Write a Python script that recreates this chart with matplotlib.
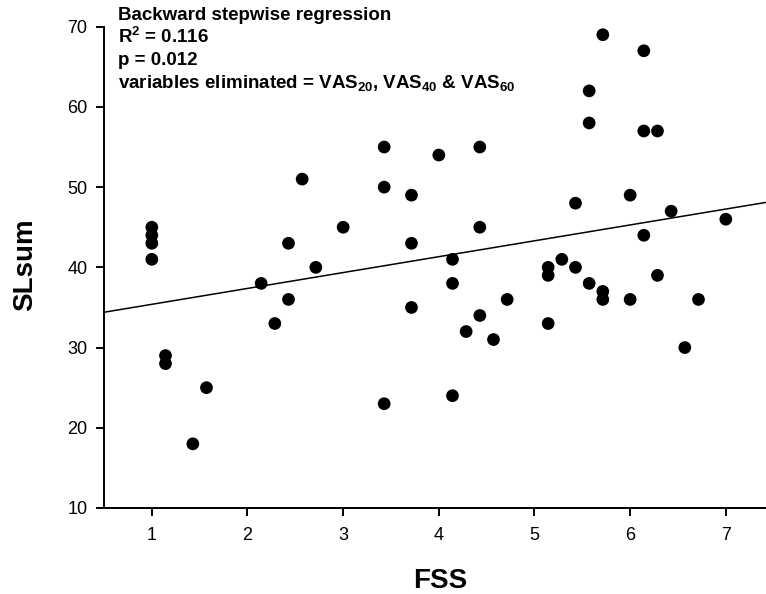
import numpy as np
import matplotlib
matplotlib.use("Agg")
import matplotlib.pyplot as plt

plt.rcParams['font.family'] = ['Liberation Sans', 'DejaVu Sans']
plt.rcParams['mathtext.fontset'] = 'custom'
plt.rcParams['mathtext.rm'] = 'Liberation Sans:bold'
plt.rcParams['mathtext.it'] = 'Liberation Sans:bold'
plt.rcParams['mathtext.bf'] = 'Liberation Sans:bold'

# FSS scores (mean of 7 items) and summed SL scores
fss = [1, 1, 1, 1,
       8/7, 8/7, 11/7, 10/7,
       18/7, 17/7, 17/7, 15/7, 19/7, 16/7,
       3,
       24/7, 24/7, 24/7,
       26/7, 26/7, 26/7,
       4,
       31/7, 31/7, 31/7,
       29/7, 29/7, 29/7,
       30/7, 32/7, 33/7,
       36/7, 36/7, 36/7, 37/7,
       40/7, 40/7, 40/7,
       43/7, 43/7, 43/7,
       39/7, 39/7, 39/7,
       44/7, 44/7,
       38/7, 38/7,
       6, 6,
       45/7, 7, 47/7, 46/7]
sl_sum = [45, 44, 43, 41,
          29, 28, 25, 18,
          51, 43, 36, 38, 40, 33,
          45,
          55, 50, 23,
          49, 43, 35,
          54,
          55, 45, 34,
          41, 38, 24,
          32, 31, 36,
          40, 39, 33, 41,
          69, 37, 36,
          67, 57, 44,
          62, 58, 38,
          57, 39,
          48, 40,
          49, 36,
          47, 46, 36, 30]

x_ticks = [1, 2, 3, 4, 5, 6, 7]
y_ticks = [10, 20, 30, 40, 50, 60, 70]

W, H = 766, 594
fig = plt.figure(figsize=(W / 100, H / 100), dpi=100)
ax = fig.add_axes([104 / W, 86 / H, 662 / W, 481.3 / H])

x = np.array(fss)
y = np.array(sl_sum)

ax.scatter(x, y, s=84, color='black', edgecolors='none', zorder=3, clip_on=False)

# least-squares line across the full axis range
slope, intercept = np.polyfit(x, y, 1)
xl = np.array([0.5, 7.42])
ax.plot(xl, intercept + slope * xl, color='black', lw=1.1, zorder=2)

ax.set_xlim(0.5, 7.42)
ax.set_ylim(10, 70)
ax.set_xticks(x_ticks)
ax.set_yticks(y_ticks)
ax.tick_params(axis='both', direction='out', length=6, width=1.4,
               labelsize=13, colors='black')
ax.tick_params(axis='x', pad=8)
ax.tick_params(axis='y', pad=6)
for side in ('top', 'right'):
    ax.spines[side].set_visible(False)
for side in ('left', 'bottom'):
    ax.spines[side].set_linewidth(1.4)

# annotation block
tx = 118 / W
lines = [
    "Backward stepwise regression",
    r"R$^{2}$ = 0.116",
    "p = 0.012",
    r"variables eliminated = VAS$_{20}$, VAS$_{40}$ & VAS$_{60}$",
]
baselines = [20, 43, 65, 88]
for s, b in zip(lines, baselines):
    fig.text(tx, 1 - b / H, s, fontsize=13.5, fontweight='bold',
             ha='left', va='baseline')

fig.text(440 / W, 6 / H, "FSS", fontsize=20, fontweight='bold',
         ha='center', va='baseline')
fig.text(25 / W, 1 - 265 / H, "SLsum", fontsize=20, fontweight='bold',
         rotation=90, ha='center', va='center')

fig.savefig("out.png", dpi=100)
